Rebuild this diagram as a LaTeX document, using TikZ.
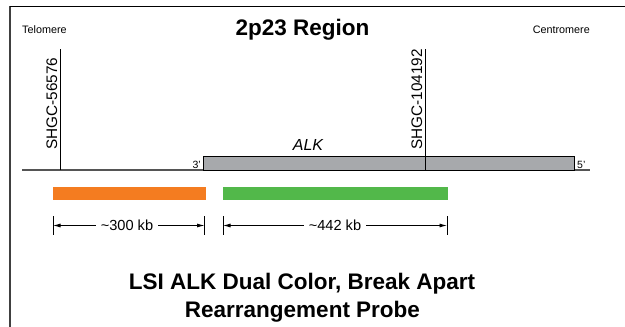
\documentclass[tikz,border=0pt]{standalone}
\usepackage{fontspec}
\setmainfont{Liberation Sans}
\usetikzlibrary{arrows.meta}
\definecolor{alkgray}{HTML}{A7A9AC}
\definecolor{probeorange}{HTML}{F47C20}
\definecolor{probegreen}{HTML}{52B84A}
\definecolor{axisgray}{HTML}{555555}
\begin{document}
\begin{tikzpicture}[x=1pt,y=-1pt,
  lbl/.style={inner sep=0pt, font=\fontsize{#1}{#1}\selectfont},
  lbl/.default=11,
  boldlbl/.style={inner sep=0pt, font=\fontsize{22.5}{27}\selectfont\bfseries},
  marker/.style={line width=1pt, black},
  probebar/.style={inner sep=0pt, minimum height=13pt, anchor=north west},
  dimtick/.style={line width=0.8pt, black},
  dimarrow/.style={line width=0.8pt, -{Latex[length=7.5pt,width=4pt]}}
]
\useasboundingbox (0,0) rectangle (625,327);

% frame
\coordinate (fbl) at (10,327);
\coordinate (ftl) at (10,6);
\coordinate (ftr) at (625,6);
\draw[line width=1.6pt, black!75] (fbl) -- (ftl);
\draw[line width=1pt, black] (ftl) -- (ftr);

% header
\node[boldlbl, anchor=base] (title) at (302.5,35) {2p23 Region};
\node[lbl=10.8, anchor=base west] (telo) at (22,33) {Telomere};
\node[lbl=10.8, anchor=base east] (centro) at (590,33) {Centromere};

% chromosome axis
\coordinate (axw) at (22,170);
\coordinate (axe) at (590,170);
\draw[line width=1.2pt, axisgray] (axw) -- (axe);

% ALK gene box
\node[draw=black, line width=0.9pt, fill=alkgray, inner sep=0pt,
      minimum width=371.5pt, minimum height=14pt, anchor=south west] (alk) at (202.7,170.5) {};
\node[lbl=16, anchor=base, font=\fontsize{16}{16}\selectfont\itshape] (alklab) at (308,150) {ALK};
\node[lbl=10.5, anchor=base east] (three) at (201,168) {3'};
\node[lbl=10.5, anchor=base west] (five) at (577,168) {5'};

% markers
\coordinate (m1top) at (60,49);
\coordinate (m1bot) at (60,170);
\draw[marker] (m1top) -- (m1bot);
\node[lbl=15.3, rotate=90, anchor=base west] (m1lab) at (57,150) {SHGC-56576};
\coordinate (m2top) at (425,49);
\coordinate (m2bot) at (425,170);
\draw[marker] (m2top) -- (m2bot);
\node[lbl=15.3, rotate=90, anchor=base west] (m2lab) at (422,150) {SHGC-104192};

% probes
\node[probebar, fill=probeorange, minimum width=153pt] (orange) at (52.5,186.5) {};
\node[probebar, fill=probegreen, minimum width=225pt] (green) at (222.7,186.5) {};

% dimension 1
\coordinate (d1lt) at (53,216);
\coordinate (d1lb) at (53,235);
\coordinate (d1rt) at (204.5,216);
\coordinate (d1rb) at (204.5,235);
\coordinate (d1l) at (53,225.5);
\coordinate (d1r) at (204.5,225.5);
\draw[dimtick] (d1lt) -- (d1lb);
\draw[dimtick] (d1rt) -- (d1rb);
\node[lbl=14.6, inner xsep=5pt] (d1txt) at (127,225.5) {\textasciitilde300 kb};
\draw[dimarrow] (d1txt.west) -- (d1l);
\draw[dimarrow] (d1txt.east) -- (d1r);

% dimension 2
\coordinate (d2lt) at (223,216);
\coordinate (d2lb) at (223,235);
\coordinate (d2rt) at (447,216);
\coordinate (d2rb) at (447,235);
\coordinate (d2l) at (223,225.5);
\coordinate (d2r) at (447,225.5);
\draw[dimtick] (d2lt) -- (d2lb);
\draw[dimtick] (d2rt) -- (d2rb);
\node[lbl=14.6, inner xsep=5pt] (d2txt) at (335,225.5) {\textasciitilde442 kb};
\draw[dimarrow] (d2txt.west) -- (d2l);
\draw[dimarrow] (d2txt.east) -- (d2r);

% caption
\node[boldlbl, anchor=base] (cap1) at (302,289) {LSI ALK Dual Color, Break Apart};
\node[boldlbl, anchor=base] (cap2) at (302.5,317) {Rearrangement Probe};
\end{tikzpicture}
\end{document}
